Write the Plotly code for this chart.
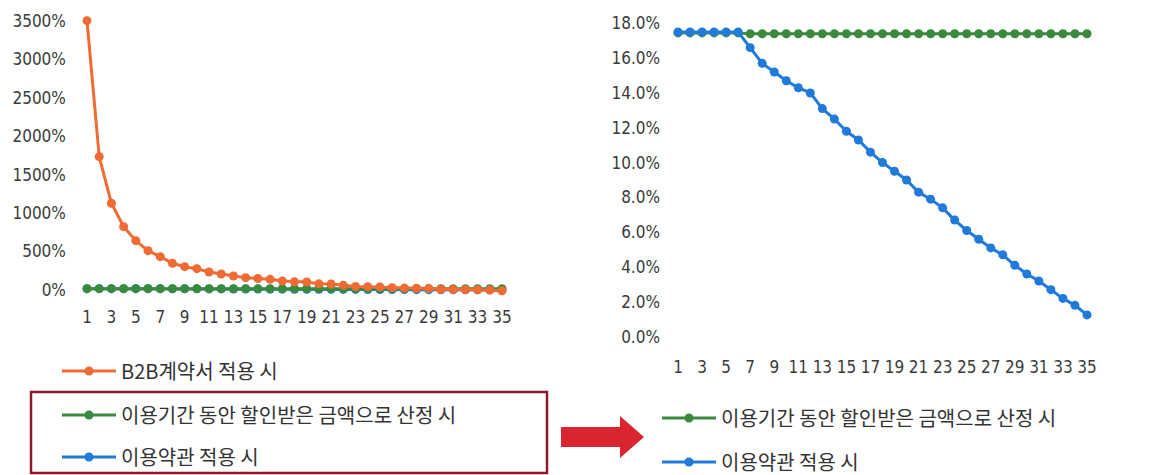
import plotly.graph_objects as go

periods = list(range(1, 36))

# Left chart (percent)
b2b_left = [3500, 1733, 1127, 823, 641, 511, 433, 347, 303, 277, 234, 208, 182, 160, 150,
            139, 117, 108, 104, 80, 78, 62, 45, 43, 40, 30, 25, 22, 18, 10, 8, 5, 3, 0, -10]
discount_left = [17.4] * 35
terms_left = [17.5, 17.5, 17.5, 17.5, 17.5, 17.5, 16.6, 15.7, 15.2, 14.7, 14.3, 14.0, 13.1, 12.5,
              11.8, 11.3, 10.6, 10.0, 9.5, 9.0, 8.3, 7.9, 7.4, 6.7, 6.1, 5.6, 5.1, 4.7, 4.1,
              3.6, 3.2, 2.7, 2.2, 1.8, 1.25]

# Right chart (percent)
discount_right = [17.45] * 6 + [17.4] * 29
terms_right = terms_left

left_ticks = [0, 500, 1000, 1500, 2000, 2500, 3000, 3500]
left_ticktext = ["0%", "500%", "1000%", "1500%", "2000%", "2500%", "3000%", "3500%"]
right_ticks = [0, 2, 4, 6, 8, 10, 12, 14, 16, 18]
right_ticktext = ["0.0%", "2.0%", "4.0%", "6.0%", "8.0%", "10.0%", "12.0%", "14.0%", "16.0%", "18.0%"]
x_ticks = list(range(1, 36, 2))

name_b2b = "B2B계약서 적용 시"
name_disc = "이용기간 동안 할인받은 금액으로 산정 시"
name_terms = "이용약관 적용 시"

ORANGE = "#EF6B33"
GREEN = "#3A8A3E"
BLUE = "#1F7AD9"

OFF = 8  # default page body margin
W, H = 1150 - OFF, 475 - OFF
def fx(px):
    return (px - OFF) / W
def fy(py):
    return 1 - (py - OFF) / H

fig = go.Figure()

# Left subplot traces
fig.add_trace(go.Scatter(x=periods, y=terms_left, mode="lines+markers", name=name_terms,
                         line=dict(color=BLUE, width=3), marker=dict(size=9, color=BLUE),
                         xaxis="x", yaxis="y", legend="legend3", cliponaxis=False))
fig.add_trace(go.Scatter(x=periods, y=discount_left, mode="lines+markers", name=name_disc,
                         line=dict(color=GREEN, width=3), marker=dict(size=9, color=GREEN),
                         xaxis="x", yaxis="y", legend="legend2", cliponaxis=False))
fig.add_trace(go.Scatter(x=periods, y=b2b_left, mode="lines+markers", name=name_b2b,
                         line=dict(color=ORANGE, width=3), marker=dict(size=9, color=ORANGE),
                         xaxis="x", yaxis="y", legend="legend", cliponaxis=False))

# Right subplot traces
fig.add_trace(go.Scatter(x=periods, y=discount_right, mode="lines+markers", name=name_disc,
                         line=dict(color=GREEN, width=3), marker=dict(size=9, color=GREEN),
                         xaxis="x2", yaxis="y2", legend="legend4", cliponaxis=False))
fig.add_trace(go.Scatter(x=periods, y=terms_right, mode="lines+markers", name=name_terms,
                         line=dict(color=BLUE, width=3), marker=dict(size=9, color=BLUE),
                         xaxis="x2", yaxis="y2", legend="legend5", cliponaxis=False))

tick_font = dict(family="DejaVu Sans Condensed", size=17, color="#3a3a3a")
leg_font = dict(family="Noto Sans CJK KR, sans-serif", size=20, color="#333333")

def leg(x_px, y_px):
    return dict(x=fx(x_px), y=fy(y_px), xanchor="left", yanchor="middle", orientation="v",
                font=leg_font, bgcolor="rgba(0,0,0,0)", itemwidth=54)

fig.update_layout(
    width=W, height=H,
    margin=dict(l=0, r=0, t=0, b=0, autoexpand=False),
    paper_bgcolor="white", plot_bgcolor="white",
    showlegend=True,
    xaxis=dict(domain=[fx(80.9), fx(508.1)], range=[0.5, 35.5], tickvals=x_ticks,
               showgrid=False, zeroline=False, showline=False, tickfont=tick_font,
               ticks="", ticklabelstandoff=7, anchor="y", automargin=False),
    yaxis=dict(domain=[fy(297.7), fy(13)], range=[-100, 3600], tickvals=left_ticks,
               ticktext=left_ticktext, showgrid=False, zeroline=False, showline=False,
               tickfont=tick_font, ticks="", ticklabelstandoff=14, anchor="x", automargin=False),
    xaxis2=dict(domain=[fx(672), fx(1093)], range=[0.5, 35.5], tickvals=x_ticks,
                showgrid=False, zeroline=False, showline=False, tickfont=tick_font,
                ticks="", ticklabelstandoff=10, anchor="y2", automargin=False),
    yaxis2=dict(domain=[fy(345.4), fy(14.6)], range=[-0.5, 18.5], tickvals=right_ticks,
                ticktext=right_ticktext, showgrid=False, zeroline=False, showline=False,
                tickfont=tick_font, ticks="", ticklabelstandoff=11, anchor="x2", automargin=False),
    legend=leg(57, 371),
    legend2=leg(57, 415),
    legend3=leg(57, 457),
    legend4=leg(657, 418),
    legend5=leg(657, 462),
    shapes=[
        dict(type="rect", xref="paper", yref="paper", x0=fx(31), x1=fx(547), y0=fy(473), y1=fy(392),
             line=dict(color="#8E1B2B", width=2.5), fillcolor="rgba(0,0,0,0)"),
        dict(type="path", xref="paper", yref="paper",
             path=(f"M {fx(561)} {fy(427)} L {fx(620)} {fy(427)} L {fx(620)} {fy(416)} "
                   f"L {fx(644)} {fy(437)} L {fx(620)} {fy(458)} L {fx(620)} {fy(447)} "
                   f"L {fx(561)} {fy(447)} Z"),
             fillcolor="#D9252F", line=dict(width=0)),
    ],
)

fig.write_html("out.html", config={"displayModeBar": False})
